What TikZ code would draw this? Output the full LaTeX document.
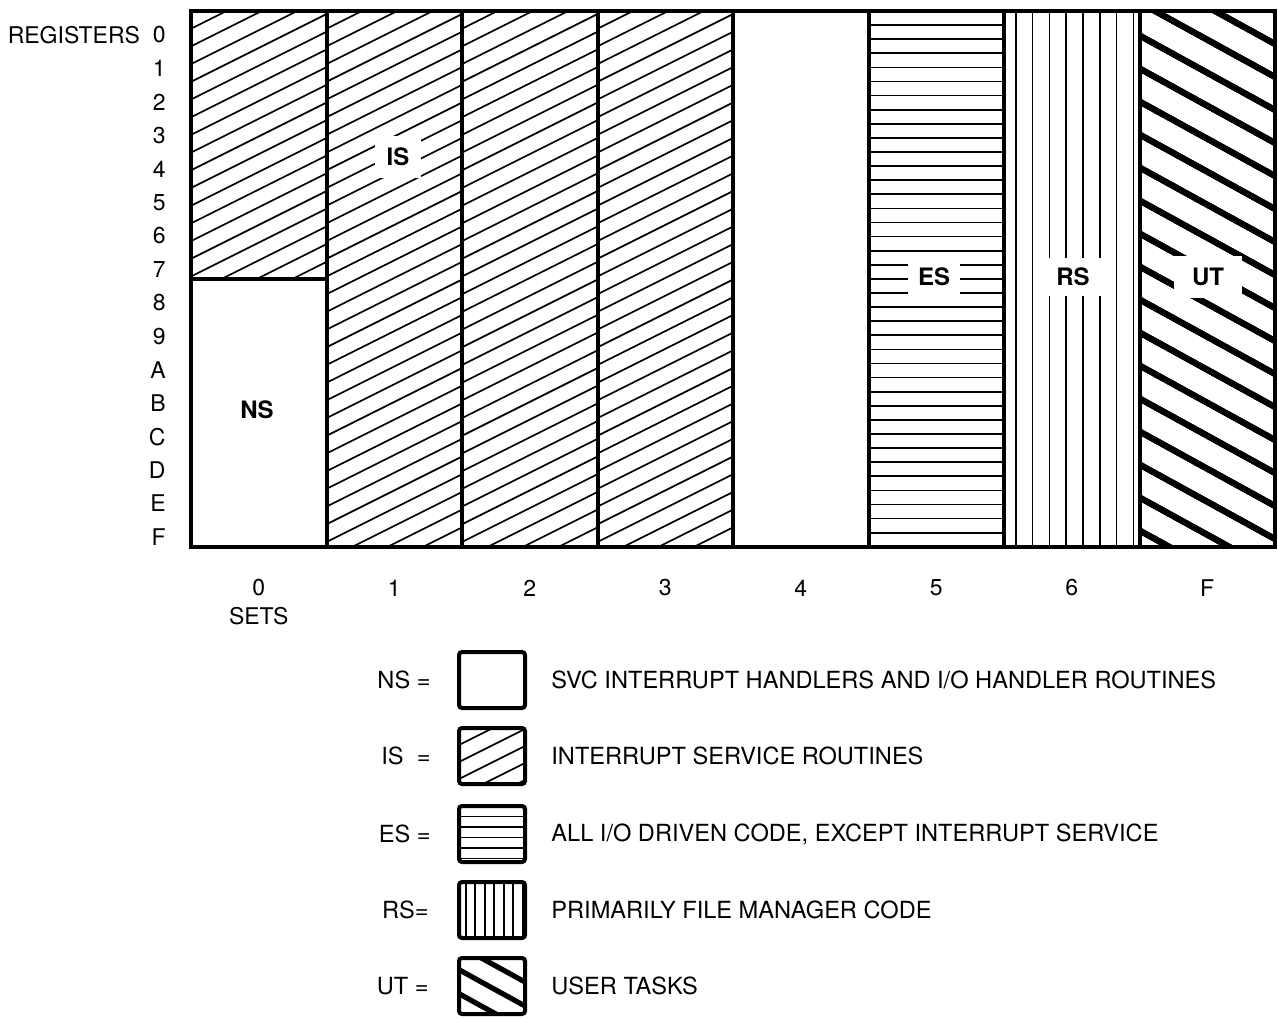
\documentclass[tikz,border=0pt]{standalone}
\usepackage{fontspec}
\setmainfont{TeX Gyre Heros}
\usetikzlibrary{positioning}
\tikzset{
  every picture/.style={line join=miter},
  frame/.style={line width=2pt},
  thinhatch/.style={line width=0.85pt},
  thickhatch/.style={line width=3pt},
  reglbl/.style={font=\fontsize{11.5}{13}\selectfont, inner sep=0pt},
  zonelbl/.style={font=\bfseries\fontsize{12}{14}\selectfont, fill=white, inner xsep=5pt, inner ysep=5pt},
  keybox/.style={draw, line width=2pt, rounded corners=1.5pt, minimum width=33pt, minimum height=28pt, inner sep=0pt},
  keytxt/.style={font=\fontsize{11.8}{14}\selectfont, inner sep=0pt},
}
% hatch fillers: #1,#2 top left, #3,#4 bottom right, #5 spacing (px)
\newcommand{\slashfill}[6][thinhatch]{%
  \begin{scope}
    \pgfmathsetmacro\hxa{#2}\pgfmathsetmacro\hya{#3}%
    \pgfmathsetmacro\hxb{#4}\pgfmathsetmacro\hyb{#5}%
    \clip (\hxa,\hya) rectangle (\hxb,\hyb);
    \foreach \k in {0,...,45}
      \draw[#1] (\hxa,\hya+\k*#6) -- ++(\hxb-\hxa,0.5*\hxa-0.5*\hxb);
  \end{scope}}
\newcommand{\backfill}[6][thickhatch]{%
  \begin{scope}
    \pgfmathsetmacro\hxa{#2}\pgfmathsetmacro\hya{#3}%
    \pgfmathsetmacro\hxb{#4}\pgfmathsetmacro\hyb{#5}%
    \pgfmathsetmacro\hdy{0.55*\hxb-0.55*\hxa}%
    \clip (\hxa,\hya) rectangle (\hxb,\hyb);
    \foreach \k in {0,...,45}
      \draw[#1] (\hxa,\hya-\hdy+\k*#6) -- ++(\hxb-\hxa,\hdy);
  \end{scope}}
\newcommand{\rulefill}[5]{%
  \begin{scope}
    \pgfmathsetmacro\hxa{#1}\pgfmathsetmacro\hya{#2}%
    \pgfmathsetmacro\hxb{#3}\pgfmathsetmacro\hyb{#4}%
    \clip (\hxa,\hya) rectangle (\hxb,\hyb);
    \foreach \k in {1,...,45}
      \draw[thinhatch] (\hxa,\hya+\k*#5) -- (\hxb,\hya+\k*#5);
  \end{scope}}
\newcommand{\barfill}[5]{%
  \begin{scope}
    \pgfmathsetmacro\hxa{#1}\pgfmathsetmacro\hya{#2}%
    \pgfmathsetmacro\hxb{#3}\pgfmathsetmacro\hyb{#4}%
    \clip (\hxa,\hya) rectangle (\hxb,\hyb);
    \foreach \k in {0,...,12}
      \draw[thinhatch] (\hxa+0.7*#5+\k*#5,\hya) -- (\hxa+0.7*#5+\k*#5,\hyb);
  \end{scope}}

\begin{document}
\begin{tikzpicture}[x=0.5pt, y=-0.5pt]
\useasboundingbox (0,0) rectangle (1278,1018);
\def\L{191}\def\T{11}\def\B{547}\def\cw{135.5}\def\rh{33.47}
% register sets
\slashfill{\L}{\T}{\L+\cw}{279}{17.7}
\foreach \c in {1,2,3}
  \slashfill{\L+\c*\cw}{\T}{\L+\c*\cw+\cw}{\B}{17.7}
\rulefill{\L+5*\cw}{\T}{\L+6*\cw}{\B}{14.1}
\barfill{\L+6*\cw}{\T}{\L+7*\cw}{\B}{16.8}
\backfill{\L+7*\cw}{\T}{\L+8*\cw}{\B}{33}
\node[zonelbl, inner sep=6pt] (IS) at (398,157) {IS};
\node[zonelbl] (NS) at (257,410) {NS};
\node[zonelbl] (ES) at (934,277) {ES};
\node[zonelbl, inner xsep=7pt] (RS) at (1073,277) {RS};
\node[zonelbl, inner xsep=9pt, inner ysep=6pt] (UT) at (1208,277) {UT};
\draw[frame] (\L,\T) rectangle (\L+8*\cw,\B);
\foreach \c in {1,...,7}
  \draw[frame] (\L+\c*\cw,\T) -- (\L+\c*\cw,\B);
\draw[frame] (\L,279) -- (\L+\cw,279);
% axis labels
\foreach \r [count=\i from 0] in {0,1,2,3,4,5,6,7,8,9,A,B,C,D,E,F}
  \node[reglbl, anchor=east] (reg\i) at (166,35+\i*\rh) {\r};
\node[reglbl, left=6pt of reg0] (regs) {REGISTERS};
\foreach \s [count=\i from 0] in {0,1,2,3,4,5,6,F}
  \node[reglbl] (set\i) at (\L+\cw/2+\i*\cw,588) {\s};
\node[reglbl, below=5pt of set0] (sets) {SETS};
% key
\slashfill{459}{728}{525}{784}{17}
\rulefill{459}{806}{525}{862}{10.5}
\barfill{459}{882}{525}{938}{9.5}
\backfill[line width=2.6pt]{459}{958}{525}{1014}{24}
\node[keybox] (kNS) at (492,680) {};
\node[keybox] (kIS) at (492,756) {};
\node[keybox] (kES) at (492,834) {};
\node[keybox] (kRS) at (492,910) {};
\node[keybox] (kUT) at (492,986) {};
\node[keytxt, left=13pt of kNS] (eqNS) {NS =};
\node[keytxt, left=13pt of kIS] (eqIS) {IS \ =};
\node[keytxt, left=13pt of kES] (eqES) {ES =};
\node[keytxt, left=14pt of kRS] (eqRS) {RS=};
\node[keytxt, left=14pt of kUT] (eqUT) {UT =};
\node[keytxt, right=12pt of kNS] (dNS) {SVC INTERRUPT HANDLERS AND I/O HANDLER ROUTINES};
\node[keytxt, right=12pt of kIS] (dIS) {INTERRUPT SERVICE ROUTINES};
\node[keytxt, right=12pt of kES] (dES) {ALL I/O DRIVEN CODE, EXCEPT INTERRUPT SERVICE};
\node[keytxt, right=12pt of kRS] (dRS) {PRIMARILY FILE MANAGER CODE};
\node[keytxt, right=12pt of kUT] (dUT) {USER TASKS};
\end{tikzpicture}
\end{document}
